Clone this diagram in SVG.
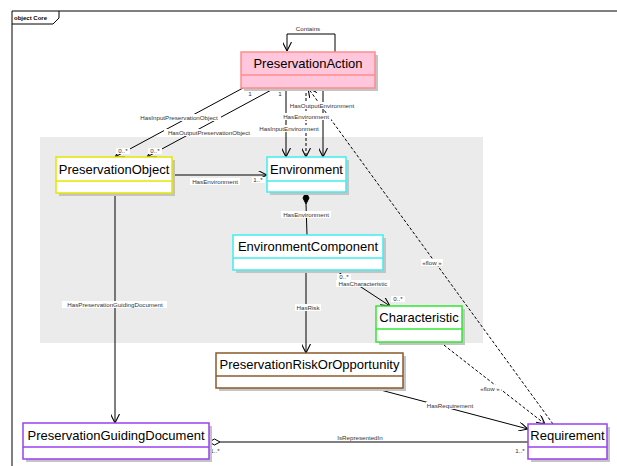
<svg xmlns="http://www.w3.org/2000/svg" width="617" height="466" viewBox="0 0 617 466">
<style>
.lbl{font-family:"Liberation Sans",Arial,sans-serif;font-size:6.2px;fill:#333;text-anchor:middle}
.lb{fill:#fff}
.name{font-family:"Liberation Sans",Arial,sans-serif;font-size:13px;fill:#000;text-anchor:middle}
.edge{stroke:#000;stroke-width:1;fill:none}
.dash{stroke-dasharray:3,2}
.shadow{fill:#c4c4c4}
.box{stroke-width:1.5}
</style>
<defs>
<marker id="arr" viewBox="0 0 10 10" refX="10" refY="5" markerWidth="9" markerHeight="9" markerUnits="userSpaceOnUse" orient="auto">
<path d="M0,0 L10,5 L0,10" fill="none" stroke="#000" stroke-width="1.2"/>
</marker>
</defs>
<rect x="0" y="0" width="617" height="466" fill="#fff"/>
<!-- frame -->
<path d="M12,466 V11 H617" fill="none" stroke="#000" stroke-width="1"/>
<path d="M12,24 H53 L59,18 V11" fill="none" stroke="#000" stroke-width="1"/>
<text x="14" y="20" style="font-family:'Liberation Sans',Arial,sans-serif;font-size:6px;font-weight:bold;fill:#000">object Core</text>
<!-- package region -->
<rect x="40" y="137" width="443" height="206" fill="#ebebeb"/>

<g id="connectors">
<path class="edge" d="M335,52 V34 H287 V51" marker-end="url(#arr)"/>
<path class="edge" d="M243,88 L115,157" marker-end="url(#arr)"/>
<path class="edge" d="M275,88 L147,157" marker-end="url(#arr)"/>
<path class="edge" d="M286,88 V157" marker-end="url(#arr)"/>
<path class="edge dash" d="M306,88 V157" marker-end="url(#arr)"/>
<path class="edge" d="M323,88 V157" marker-end="url(#arr)"/>
<path class="edge" d="M172,175 H267" marker-end="url(#arr)"/>
<path class="edge" d="M306,204 L307,235"/>
<path d="M306,192 L309,198 L306,204 L303,198 Z" fill="#000" stroke="#000" stroke-width="1"/>
<path class="edge" d="M335,270 L390,306" marker-end="url(#arr)"/>
<path class="edge" d="M306,270 V353" marker-end="url(#arr)"/>
<path class="edge" d="M115,194 V423" marker-end="url(#arr)"/>
<path class="edge" d="M373,388 L528,429" marker-end="url(#arr)"/>
<path class="edge" d="M220,442 H528"/>
<path d="M209,442 L214.5,439 L220,442 L214.5,445 Z" fill="#fff" stroke="#000" stroke-width="1"/>
<path class="edge dash" d="M440,342 L545,424" marker-end="url(#arr)"/>
<path class="edge dash" d="M553,424 L308,88" marker-end="url(#arr)"/>

<!-- labels -->
<text class="lbl" x="308" y="31">Contains</text>
<text class="lbl" x="250" y="96">1</text>
<text class="lbl" x="280" y="96">1</text>
<rect class="lb" x="137" y="114" width="84" height="7"/>
<text class="lbl" x="179" y="120">HasInputPreservationObject</text>
<rect class="lb" x="164" y="129" width="90" height="7"/>
<text class="lbl" x="209" y="135">HasOutputPreservationObject</text>
<rect class="lb" x="116" y="148" width="14" height="6"/>
<text class="lbl" x="123" y="153">0..*</text>
<rect class="lb" x="148" y="148" width="14" height="6"/>
<text class="lbl" x="155" y="153">0..*</text>
<rect class="lb" x="288" y="102" width="70" height="7"/>
<text class="lbl" x="322" y="108">HasOutputEnvironment</text>
<rect class="lb" x="281" y="113" width="50" height="7"/>
<text class="lbl" x="306" y="119">HasEnvironment</text>
<rect class="lb" x="257" y="125" width="64" height="7"/>
<text class="lbl" x="289" y="131">HasInputEnvironment</text>
<rect class="lb" x="190" y="178" width="50" height="7"/>
<text class="lbl" x="215" y="184">HasEnvironment</text>
<rect class="lb" x="252" y="177" width="13" height="6"/>
<text class="lbl" x="258" y="182">1..*</text>
<rect class="lb" x="281" y="211" width="50" height="7"/>
<text class="lbl" x="306" y="217">HasEnvironment</text>
<rect class="lb" x="337" y="274" width="14" height="6"/>
<text class="lbl" x="344" y="279">0..*</text>
<rect class="lb" x="336" y="280" width="54" height="7"/>
<text class="lbl" x="363" y="286">HasCharacteristic</text>
<rect class="lb" x="391" y="296" width="14" height="6"/>
<text class="lbl" x="398" y="301">0..*</text>
<rect class="lb" x="295" y="304" width="26" height="7"/>
<text class="lbl" x="308" y="310">HasRisk</text>
<rect class="lb" x="62" y="301" width="105" height="7"/>
<text class="lbl" x="115" y="307">HasPreservationGuidingDocument</text>
<rect class="lb" x="421" y="259" width="22" height="7"/>
<text class="lbl" x="432" y="265">«flow »</text>
<rect class="lb" x="479" y="385" width="22" height="7"/>
<text class="lbl" x="490" y="391">«flow »</text>
<rect class="lb" x="426" y="402" width="48" height="7"/>
<text class="lbl" x="450" y="408">HasRequirement</text>
<text class="lbl" x="360" y="440">IsRepresentedIn</text>
<text class="lbl" x="215" y="453">1..*</text>
<text class="lbl" x="520" y="453">1..*</text>
</g>

<g id="PreservationAction">
<rect class="shadow" x="244" y="55" width="134" height="36"/>
<rect class="box" x="241" y="52" width="134" height="36" fill="#ffc6dc" stroke="#ff8c8c"/>
<line x1="241" y1="75" x2="375" y2="75" stroke="#ff8c8c" stroke-width="1.5"/>
<text class="name" x="308" y="68">PreservationAction</text>
</g>
<g id="PreservationObject">
<rect class="shadow" x="59" y="160" width="116" height="36"/>
<rect class="box" x="56" y="157" width="116" height="36" fill="#fff" stroke="#e6e600"/>
<line x1="56" y1="181" x2="172" y2="181" stroke="#e6e600" stroke-width="1.5"/>
<text class="name" x="114" y="174">PreservationObject</text>
</g>
<g id="Environment">
<rect class="shadow" x="270" y="160" width="79" height="35"/>
<rect class="box" x="267" y="157" width="79" height="35" fill="#fff" stroke="#40eef0"/>
<line x1="267" y1="181" x2="346" y2="181" stroke="#40eef0" stroke-width="1.5"/>
<text class="name" x="306.5" y="174">Environment</text>
</g>
<g id="EnvironmentComponent">
<rect class="shadow" x="236" y="238" width="150" height="35"/>
<rect class="box" x="233" y="235" width="150" height="35" fill="#fff" stroke="#40eef0"/>
<line x1="233" y1="258" x2="383" y2="258" stroke="#40eef0" stroke-width="1.5"/>
<text class="name" x="308" y="251">EnvironmentComponent</text>
</g>
<g id="Characteristic">
<rect class="shadow" x="379" y="309" width="86" height="36"/>
<rect class="box" x="376" y="306" width="86" height="36" fill="#fff" stroke="#33e633"/>
<line x1="376" y1="329" x2="462" y2="329" stroke="#33e633" stroke-width="1.5"/>
<text class="name" x="419" y="322">Characteristic</text>
</g>
<g id="PreservationRiskOrOpportunity">
<rect class="shadow" x="219" y="356" width="187" height="35"/>
<rect class="box" x="216" y="353" width="187" height="35" fill="#fff" stroke="#8b5a2b"/>
<line x1="216" y1="376" x2="403" y2="376" stroke="#8b5a2b" stroke-width="1.5"/>
<text class="name" x="309.5" y="369">PreservationRiskOrOpportunity</text>
</g>
<g id="PreservationGuidingDocument">
<rect class="shadow" x="26" y="426" width="186" height="36"/>
<rect class="box" x="23" y="423" width="186" height="36" fill="#fff" stroke="#9a40f0"/>
<line x1="23" y1="447" x2="209" y2="447" stroke="#9a40f0" stroke-width="1.5"/>
<text class="name" x="116" y="440">PreservationGuidingDocument</text>
</g>
<g id="Requirement">
<rect class="shadow" x="531" y="427" width="79" height="35"/>
<rect class="box" x="528" y="424" width="79" height="35" fill="#fff" stroke="#9a40f0"/>
<line x1="528" y1="447" x2="607" y2="447" stroke="#9a40f0" stroke-width="1.5"/>
<text class="name" x="567.5" y="440">Requirement</text>
</g>
</svg>
